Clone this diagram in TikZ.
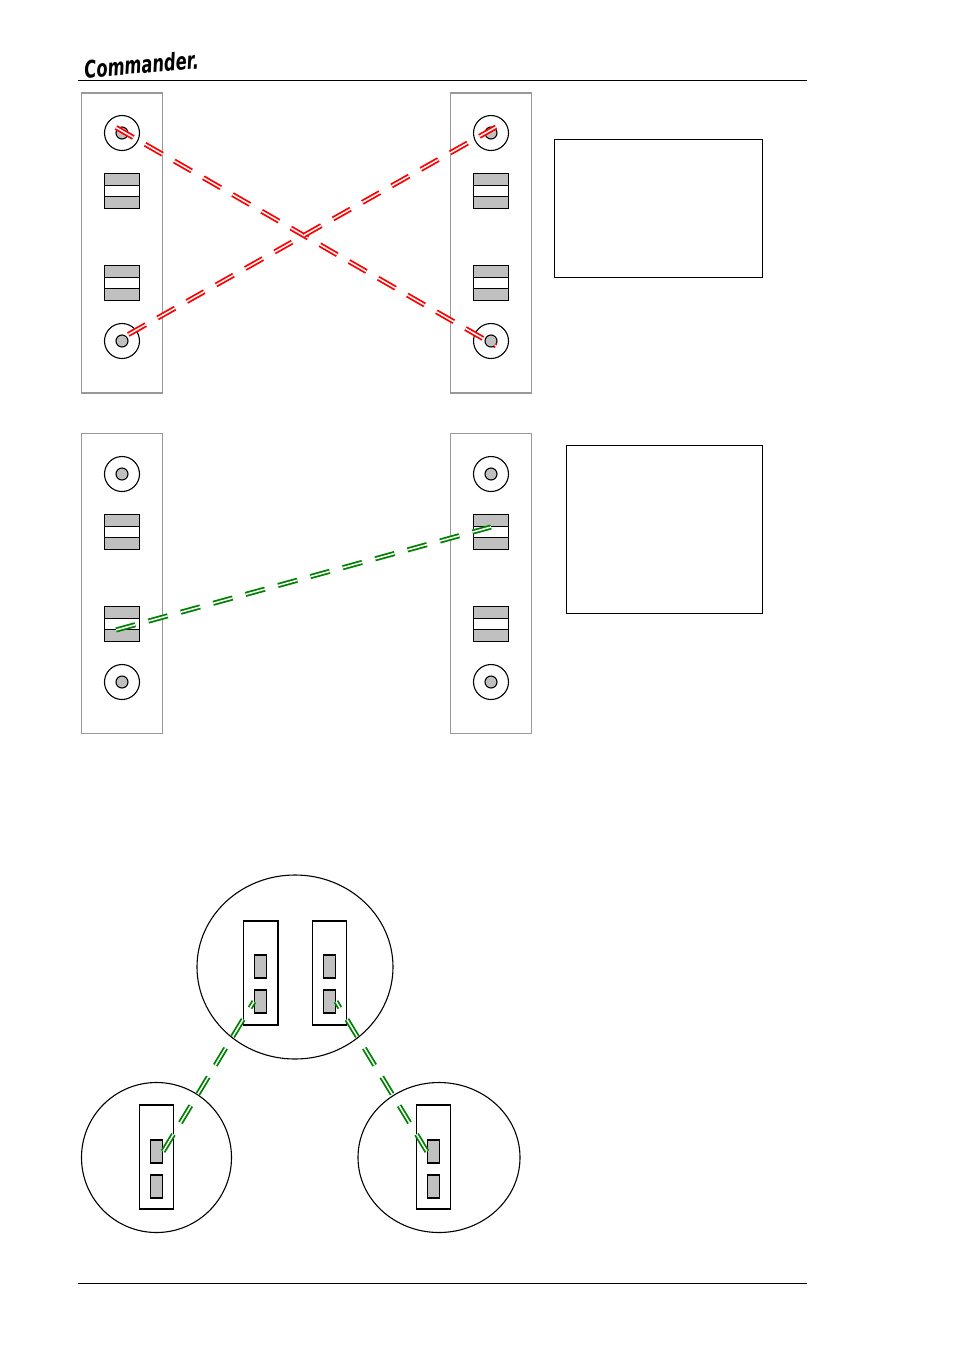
\documentclass[tikz,border=0pt]{standalone}
\usepackage{fontspec}
\usetikzlibrary{shapes.geometric}
\newfontfamily\logofont{DejaVu Sans}
\definecolor{panelgrey}{RGB}{153,153,153}
\definecolor{partgrey}{RGB}{192,192,192}
\definecolor{wiregreen}{RGB}{0,128,0}
\tikzset{
  panelbox/.style={shape=rectangle,draw=panelgrey,line width=1.1pt,fill=white,minimum width=81pt,minimum height=300pt,inner sep=0pt},
  knob/.style={shape=circle,draw,line width=1.1pt,minimum size=35pt,inner sep=0pt},
  knobdot/.style={shape=circle,draw,line width=1.1pt,fill=partgrey,minimum size=12pt,inner sep=0pt},
  switchbox/.style={shape=rectangle,draw,line width=1.1pt,fill=partgrey,minimum size=35pt,inner sep=0pt},
  switchgap/.style={shape=rectangle,draw,line width=1.1pt,fill=white,minimum width=35pt,minimum height=11.5pt,inner sep=0pt},
  textbox/.style={shape=rectangle,draw,line width=0.9pt,inner sep=0pt},
  bubble/.style={shape=ellipse,draw,line width=1.1pt,inner sep=0pt},
  unitbox/.style={shape=rectangle,draw,line width=1.1pt,fill=white,minimum width=34.5pt,minimum height=104pt,inner sep=0pt},
  heavybox/.style={unitbox,line width=1.5pt},
  portbox/.style={shape=rectangle,draw,line width=1.1pt,fill=partgrey,minimum width=12pt,minimum height=23pt,inner sep=0pt},
  redwire/.style={draw=red,double=white,double distance=1.5pt,line width=1.8pt,dash pattern=on 20pt off 13.6pt},
  greenwire/.style={draw=wiregreen,double=white,double distance=1.5pt,line width=1.8pt,dash pattern=on 20pt off 13.6pt}
}
\begin{document}
\begin{tikzpicture}[x=1pt,y=-1pt]
\useasboundingbox[fill=white] (0,0) rectangle (954,1350);

% header and footer
\node[inner sep=0pt,anchor=south west,rotate=5] (logo) at (85,79) {\scalebox{0.68}[1]{\logofont\bfseries\itshape\fontsize{24pt}{24pt}\selectfont Commander.}};
\coordinate (headA) at (78,80.5);
\coordinate (headB) at (807,80.5);
\coordinate (footA) at (78,1283.5);
\coordinate (footB) at (807,1283.5);
\draw[line width=1.1pt] (headA) to (headB);
\draw[line width=1.1pt] (footA) to (footB);

% upper pair of panels
\node[panelbox] (panelA) at (122,243) {};
\node[panelbox] (panelB) at (491,243) {};
\node[knob] (knobA) at (122,133) {};
\node[knobdot] (dotA) at (122,133) {};
\node[switchbox] (swA) at (122,191) {};
\node[switchgap] (gapA) at (122,191) {};
\node[switchbox] (swB) at (122,283) {};
\node[switchgap] (gapB) at (122,283) {};
\node[knob] (knobB) at (122,341) {};
\node[knobdot] (dotB) at (122,341) {};
\node[knob] (knobC) at (491,133) {};
\node[knobdot] (dotC) at (491,133) {};
\node[switchbox] (swC) at (491,191) {};
\node[switchgap] (gapC) at (491,191) {};
\node[switchbox] (swD) at (491,283) {};
\node[switchgap] (gapD) at (491,283) {};
\node[knob] (knobD) at (491,341) {};
\node[knobdot] (dotD) at (491,341) {};
\node[textbox,minimum width=208pt,minimum height=138pt] (noteA) at (658.5,208.5) {};

% lower pair of panels
\node[panelbox] (panelC) at (122,583.5) {};
\node[panelbox] (panelD) at (491,583.5) {};
\node[knob] (knobE) at (122,474) {};
\node[knobdot] (dotE) at (122,474) {};
\node[switchbox] (swE) at (122,532) {};
\node[switchgap] (gapE) at (122,532) {};
\node[switchbox] (swF) at (122,624) {};
\node[switchgap] (gapF) at (122,624) {};
\node[knob] (knobF) at (122,682) {};
\node[knobdot] (dotF) at (122,682) {};
\node[knob] (knobG) at (491,474) {};
\node[knobdot] (dotG) at (491,474) {};
\node[switchbox] (swG) at (491,532) {};
\node[switchgap] (gapG) at (491,532) {};
\node[switchbox] (swH) at (491,624) {};
\node[switchgap] (gapH) at (491,624) {};
\node[knob] (knobH) at (491,682) {};
\node[knobdot] (dotH) at (491,682) {};
\node[textbox,minimum width=196pt,minimum height=168pt] (noteB) at (664.5,529.5) {};

% the three bubbles
\node[bubble,minimum width=196pt,minimum height=184pt] (bubbleA) at (295,967) {};
\node[bubble,minimum width=150pt,minimum height=150pt] (bubbleB) at (156.5,1157.5) {};
\node[bubble,minimum width=162pt,minimum height=150pt] (bubbleC) at (439,1157.5) {};
\node[heavybox] (unitA) at (260.5,973) {};
\node[unitbox] (unitB) at (329.5,973) {};
\node[unitbox] (unitC) at (156.5,1157) {};
\node[unitbox] (unitD) at (433.5,1157) {};
\node[portbox] (portA) at (260.5,966.5) {};
\node[portbox] (portB) at (260.5,1001.5) {};
\node[portbox] (portC) at (329.5,966.5) {};
\node[portbox] (portD) at (329.5,1001.5) {};
\node[portbox] (portE) at (156.5,1151.5) {};
\node[portbox] (portF) at (156.5,1186.5) {};
\node[portbox] (portG) at (433.5,1151.5) {};
\node[portbox] (portH) at (433.5,1186.5) {};

% wires
\coordinate (endA) at (116,127.5);
\coordinate (endB) at (496,346);
\coordinate (endC) at (128.3,334.5);
\coordinate (endD) at (496,127);
\coordinate (endE) at (116,630);
\coordinate (endF) at (491,527);
\draw[redwire] (endA) to (endB);
\draw[redwire] (endC) to (endD);
\draw[greenwire] (endE) to (endF);
\draw[greenwire] (portE.east) to (portB.west);
\draw[greenwire] (portG.west) to (portD.east);
\end{tikzpicture}
\end{document}
